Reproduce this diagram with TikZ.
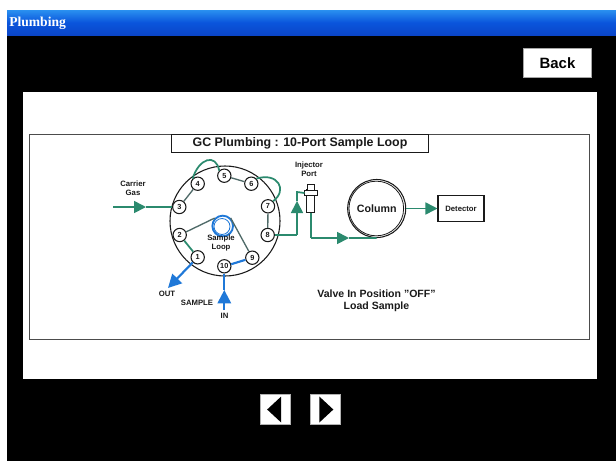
\documentclass[tikz,border=0pt]{standalone}
\usepackage{fontspec}
\setmainfont{Liberation Sans}
\newfontfamily\titlefont{Liberation Serif}
\usetikzlibrary{arrows.meta,shapes.geometric}
\definecolor{gcgreen}{HTML}{2B8A6E}
\definecolor{gcblue}{HTML}{1F78D8}
\definecolor{gcgrey}{HTML}{4F6A68}
\definecolor{gcink}{HTML}{1A1A1A}
\definecolor{barmid}{HTML}{0A55DC}
\definecolor{bartop}{HTML}{2A90F0}
\definecolor{barbot}{HTML}{0A45C8}
\tikzset{
  x=0.75pt,y=-0.75pt,
  port/.style={circle,draw=gcink,fill=white,line width=0.8pt,minimum size=10pt,inner sep=0pt,font=\bfseries\fontsize{5.5}{5.5}\selectfont,text=gcink},
  lab/.style={font=\bfseries\fontsize{5.8}{6.6}\selectfont,text=gcink,align=center,inner sep=0pt},
  greenline/.style={draw=gcgreen,line width=1.3pt},
  greyline/.style={draw=gcgrey,line width=1pt},
  blueline/.style={draw=gcblue,line width=1.6pt},
  greenhead/.style={greenline,-{Triangle[length=9pt,width=9pt]}},
  bluehead/.style={blueline,-{Triangle[length=10pt,width=10pt]}},
  navbtn/.style={draw=gray!60,fill=white,line width=0.5pt,minimum width=22.5pt,minimum height=22.5pt,inner sep=0pt},
  navtri/.style={fill=black,draw=none,isosceles triangle,isosceles triangle stretches,minimum height=10.5pt,minimum width=19.5pt,inner sep=0pt},
  infotext/.style={font=\bfseries\fontsize{7.9}{9}\selectfont,text=gcink,align=center,inner sep=0pt},
}
\begin{document}
\begin{tikzpicture}
\useasboundingbox (0,0) rectangle (616,461);
\fill[white] (0,0) rectangle (616,461);
\fill[black] (7,35) rectangle (616,461);
\shade[top color=bartop,bottom color=barbot,middle color=barmid] (7,10) rectangle (616,35);
\node[anchor=west,text=white,inner sep=0pt,font=\titlefont\bfseries\fontsize{10.2}{12}\selectfont] (wintitle) at (9,23.5) {Plumbing};
\node[draw=gray!70,fill=white,line width=0.6pt,minimum width=51pt,minimum height=22pt,inner sep=0pt,font=\bfseries\fontsize{11.2}{14}\selectfont] (back) at (557.5,63) {Back};
\fill[white] (23,92) rectangle (597,379);
\draw[draw=gray!60!black,line width=0.55pt] (29,134) rectangle (589,339);
\node[draw=gcink,fill=white,line width=0.7pt,minimum width=193pt,minimum height=13.5pt,inner sep=0pt,font=\bfseries\fontsize{9.3}{10}\selectfont,text=gcink] (title) at (300,143) {GC Plumbing : 10-Port Sample Loop};

% valve body
\node[circle,draw=gcink,line width=0.8pt,minimum size=82.5pt,inner sep=0pt] (valve) at (225,221) {};

% sample loop
\node[circle,draw=gcblue,line width=1.4pt,minimum size=15.5pt,inner sep=0pt] (loop) at (222.7,226) {};
\node[circle,draw=gcblue,line width=0.6pt,minimum size=12pt,inner sep=0pt] (loopb) at (222,226.5) {};

% ports
\node[port] (p3) at (179.3,207) {3};
\node[port] (p4) at (197.7,183.7) {4};
\node[port] (p5) at (224.3,175.7) {5};
\node[port] (p6) at (251.3,183.7) {6};
\node[port] (p7) at (268,206.3) {7};
\node[port] (p8) at (267.7,235) {8};
\node[port] (p9) at (252.3,257.7) {9};
\node[port] (p10) at (224.3,266.3) {10};
\node[port] (p1) at (197.7,257.3) {1};
\node[port] (p2) at (179.7,235) {2};

% internal connections
\draw[greyline] (p3) -- (p4);
\draw[greyline] (p5) -- (p6);
\draw[greyline] (p7) -- (p8);
\draw[greenline] (p2) -- (p1);
\draw[greenline] (p4.north west) .. controls (199,158) and (216,153) .. (p5.north west);
\draw[greenline] (p6.north east) .. controls (278,172) and (288,190) .. (p7.north east);
\draw[greyline] (p2) -- (loop.north west);
\draw[greyline] (loop.north east) -- (p9);
\draw[blueline] (p10) -- (p9);

% carrier gas
\coordinate (carrierin) at (113,207);
\coordinate (carriermid) at (146,207);
\draw[greenhead] (carrierin) -- (carriermid);
\draw[greenline] (carriermid) -- (p3);
\node[lab] (carrier) at (133,188) {Carrier\\Gas};

% out
\coordinate (outend) at (168,288);
\draw[bluehead] (p1) -- (outend);
\node[lab] (outlab) at (167,294) {OUT};
\node[lab] (samplelab) at (197,303) {SAMPLE};

% in
\coordinate (inend) at (224.3,310);
\coordinate (inmid) at (224.3,290);
\draw[bluehead] (inend) -- (inmid);
\draw[blueline] (inmid) -- (p10);
\node[lab] (inlab) at (224.5,316) {IN};

\node[lab] (samplelooplab) at (221,243) {Sample\\Loop};

% injector
\node[draw=gcink,fill=white,line width=0.6pt,minimum width=6pt,minimum height=17pt,inner sep=0pt] (injbody) at (310.8,201) {};
\node[draw=gcink,fill=white,line width=0.6pt,minimum width=9.2pt,minimum height=4.3pt,inner sep=0pt] (injcap) at (311,193) {};
\node[draw=gcink,fill=white,line width=0.6pt,minimum width=4.8pt,minimum height=4.2pt,inner sep=0pt] (injtop) at (311,187.2) {};
\node[lab] (injlab) at (309,169) {Injector\\Port};

% column
\node[circle,draw=gcink,line width=0.8pt,minimum size=43.5pt,inner sep=0pt,font=\bfseries\fontsize{8}{8}\selectfont,text=gcink] (column) at (376.7,208.5) {Column};
\node[circle,draw=gcink,line width=0.6pt,minimum size=41pt,inner sep=0pt] (columnb) at (376.3,208.5) {};

% detector
\node[draw=gcink,fill=white,line width=0.8pt,minimum width=34.5pt,minimum height=20pt,inner sep=0pt,font=\bfseries\fontsize{5.8}{6}\selectfont,text=gcink] (detector) at (461,208.5) {Detector};

% injector plumbing
\coordinate (riserlow) at (297,235);
\coordinate (risermid) at (297,201);
\coordinate (risertop) at (297,192);
\draw[greenline] (p8) -- (riserlow);
\draw[greenhead] (riserlow) -- (risermid);
\draw[greenline] (risermid) -- (risertop) -- (injcap.west);
\coordinate (drop) at (310.8,238);
\coordinate (runmid) at (349,238);
\draw[greenline] (injbody.south) -- (drop);
\draw[greenhead] (drop) -- (runmid);
\draw[greenline] (runmid) -- (column.south);
\draw[greenhead] (column.east) -- (detector.west);

% status
\node[infotext] (status) at (376.5,301) {Valve In Position "OFF"\\Load Sample};

% navigation
\node[navbtn] (prev) at (275.5,409.5) {};
\node[navbtn] (next) at (325,409.5) {};
\node[navtri,shape border rotate=180] (prevtri) at (prev.center) {};
\node[navtri] (nexttri) at (next.center) {};
\end{tikzpicture}
\end{document}
